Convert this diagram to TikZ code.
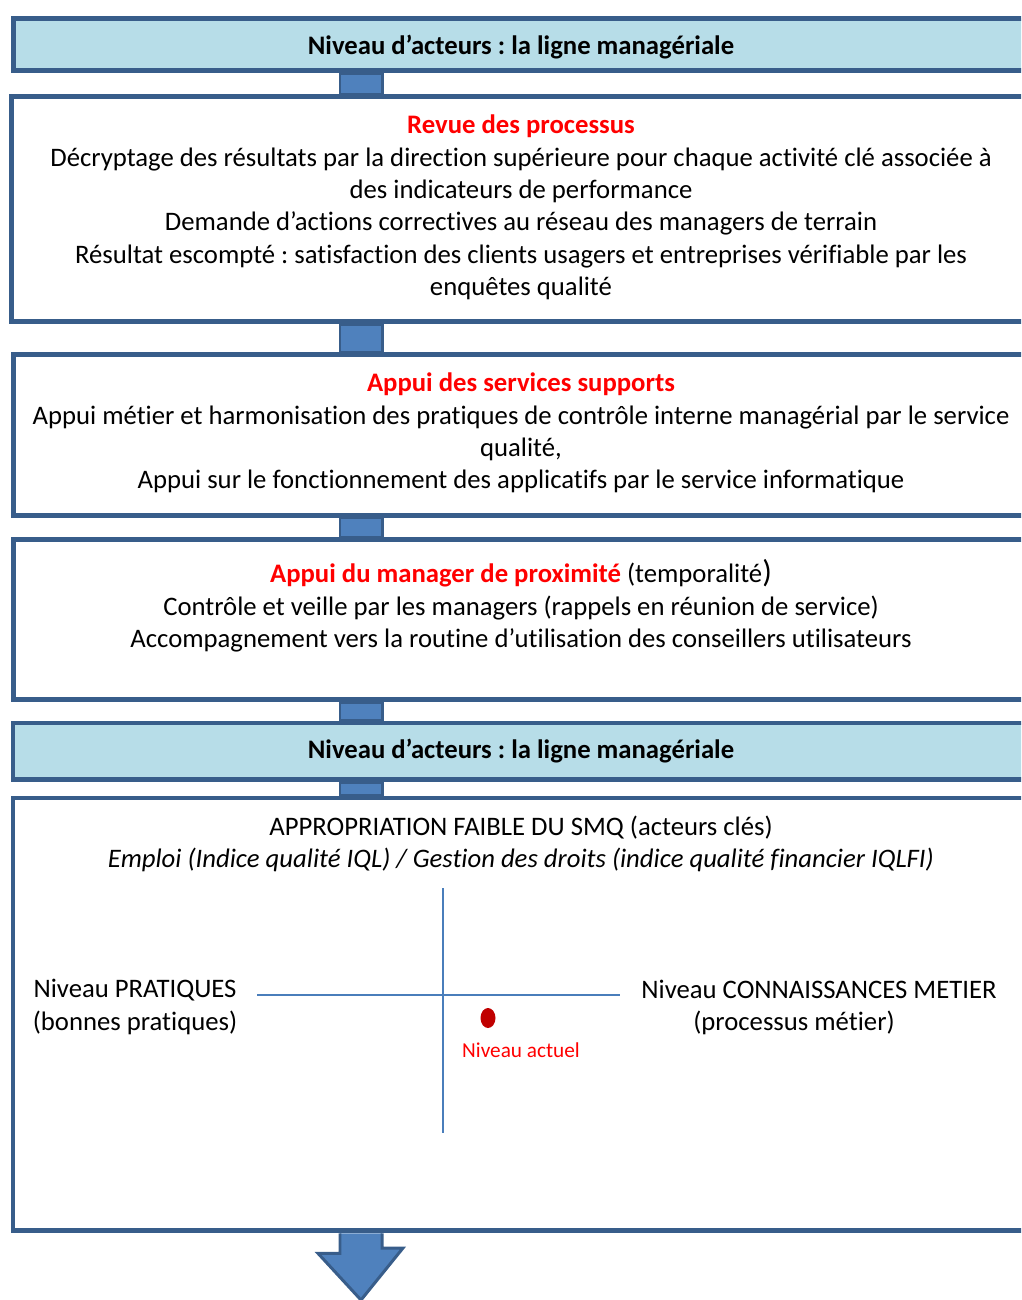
\documentclass[tikz,border=0pt]{standalone}
\usepackage{fontspec}
\setmainfont[Ligatures = NoCommon]{Carlito}
\usetikzlibrary{positioning}
\usetikzlibrary{backgrounds}
\usetikzlibrary{shapes.geometric}
\definecolor{boxline}{HTML}{385D8A}
\definecolor{headfill}{HTML}{B7DDE8}
\definecolor{linkfill}{HTML}{4F81BD}
\definecolor{titlered}{HTML}{FF0000}
\definecolor{dotred}{HTML}{C00000}
\definecolor{axisblue}{HTML}{4A7EBB}
\tikzset{box/.style = {draw = boxline, line width = 2.8pt, fill = white, rectangle,
    anchor = north west, inner sep = 0, minimum width = 20.6cm}}
\tikzset{headbox/.style = {box, fill = headfill}}
\tikzset{link/.style = {draw = boxline, line width = 1.7pt, fill = linkfill}}
\tikzset{txt/.style = {align = center, inner sep = 0, font = \fontsize{15.2}{18.4}\selectfont}}
\tikzset{axis/.style = {draw = axisblue, line width = 1.1pt}}
\tikzset{reddot/.style = {ellipse, fill = dotred, inner sep = 0, minimum width = 0.3cm, minimum height = 0.4cm}}
\newcommand{\rtitle}[1]{\textcolor{titlered}{\textbf{#1}}}

\begin{document}
\frenchspacing
\begin{tikzpicture}[x=0.02cm, y=-0.02cm]
      \clip (0, 0) rectangle (1021, 1300);
      \coordinate (lx) at (340, 0);
      \coordinate (rx) at (382, 0);
      % boxes
      \node [headbox, minimum height = 1.05cm] (head1) at (11, 16) {};
      \node [box, minimum height = 4.5cm] (revue) at (9, 94.5) {};
      \node [box, minimum height = 3.21cm] (appui) at (11, 352.5) {};
      \node [box, minimum height = 3.21cm] (proxi) at (11, 537) {};
      \node [headbox, minimum height = 1.14cm] (head2) at (10.5, 720.5) {};
      \node [box, minimum height = 8.66cm] (smq) at (10.5, 795.5) {};
      % links between boxes
      \begin{scope}[on background layer]
        \draw [link] (head1.south -| lx) rectangle (revue.north -| rx);
        \draw [link] (revue.south -| lx) rectangle (appui.north -| rx);
        \draw [link] (appui.south -| lx) rectangle (proxi.north -| rx);
        \draw [link] (proxi.south -| lx) rectangle (head2.north -| rx);
        \draw [link] (head2.south -| lx) rectangle (smq.north -| rx);
        \draw [link] (smq.south -| lx) -- ++(0, 20) -- ++(-22, 0) -- (361, 1300)
          -- (403, 1248) -- ++(-21, 0) -- (smq.south -| rx);
      \end{scope}
      % texts
      \node [txt] (t1) at (521, 47) {\textbf{Niveau d’acteurs : la ligne managériale}};
      \node [txt] (t2) at (521, 207.5) {\rtitle{Revue des processus}\\
        Décryptage des résultats par la direction supérieure pour chaque activité clé associée à\\
        des indicateurs de performance\\
        Demande d’actions correctives au réseau des managers de terrain\\
        Résultat escompté : satisfaction des clients usagers et entreprises vérifiable par les\\
        enquêtes qualité};
      \node [txt] (t3) at (521, 433) {\rtitle{Appui des services supports}\\
        Appui métier et harmonisation des pratiques de contrôle interne managérial par le service\\
        qualité,\\
        Appui sur le fonctionnement des applicatifs par le service informatique};
      \node [txt] (t4) at (521, 606) {\rtitle{Appui du manager de proximité} (temporalité{\fontsize{18}{18}\selectfont )}\\
        Contrôle et veille par les managers (rappels en réunion de service)\\
        Accompagnement vers la routine d’utilisation des conseillers utilisateurs};
      \node [txt] (t5) at (521, 751) {\textbf{Niveau d’acteurs : la ligne managériale}};
      \node [txt] (t6) at (521, 844) {APPROPRIATION FAIBLE DU SMQ (acteurs clés)\\
        \textit{Emploi (Indice qualité IQL) / Gestion des droits (indice qualité financier IQLFI)}};
      % axes
      \coordinate (vtop) at (443, 888);
      \coordinate (vbot) at (443, 1133);
      \coordinate (hleft) at (257, 995);
      \coordinate (hright) at (620, 995);
      \draw [axis] (vtop) -- (vbot);
      \draw [axis] (hleft) -- (hright);
      \node [txt] (prat) at (135, 1007) {Niveau PRATIQUES\\(bonnes pratiques)};
      \node [txt] (conn) at (819, 989) {Niveau CONNAISSANCES METIER};
      \node [txt] (proc) at (794, 1023) {(processus métier)};
      \node [reddot] (dot) at (488, 1018) {};
      \node [txt, font = \fontsize{12.1}{14}\selectfont, text = titlered] (actuel) at (521, 1050) {Niveau actuel};
    \end{tikzpicture}
\end{document}
